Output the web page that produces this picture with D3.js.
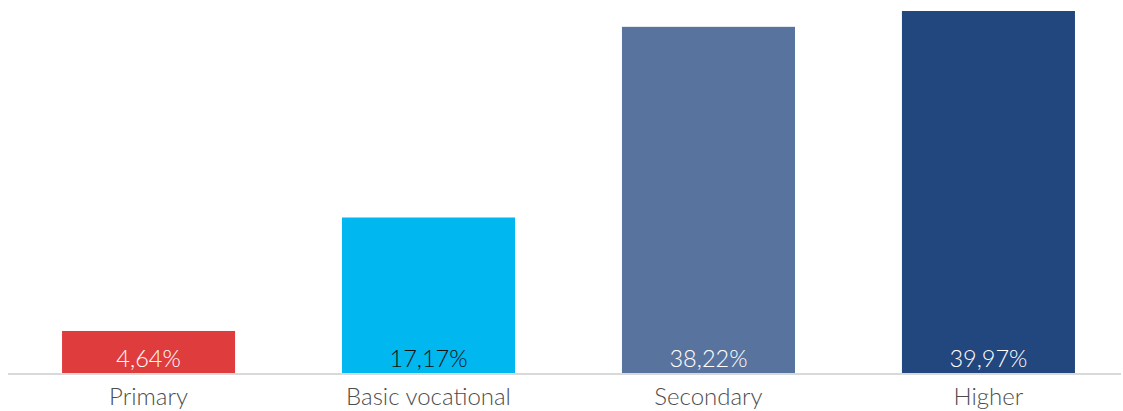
<!DOCTYPE html>
<meta charset="utf-8">
<style>
body { margin: 0; background: #fff; }
svg { display: block; }
.cat { font-family: Lato, "Open Sans", sans-serif; font-weight: 300; font-size: 24px; fill: #4d4d4d; }
.val { font-family: Lato, "Open Sans", sans-serif; font-weight: 300; font-size: 23.5px; }
</style>
<body>
<svg></svg>
<script src="https://d3js.org/d3.v7.min.js"></script>
<script>
// education levels and their shares (%)
const categories = ['Primary', 'Basic vocational', 'Secondary', 'Higher'];
const values = [4.64, 17.17, 38.22, 39.97];
const barColors = ['#df3d3d', '#00b7ef', '#58749e', '#22467e'];
const labelColors = ['#fff', '#111', '#fff', '#fff'];

const width = 1123, height = 411;
const baseline = 373;

const svg = d3.select('svg')
  .attr('width', width)
  .attr('height', height);

const xScale = d3.scaleBand()
  .domain(categories)
  .range([8, 1129])
  .paddingInner(0.382)
  .paddingOuter(0.193);

const yScale = d3.scaleLinear()
  .domain([0, 39.97])
  .range([baseline, 11]);

const fmt = d => d3.format('.2f')(d).replace('.', ',') + '%';

svg.selectAll('rect.bar')
  .data(values)
  .enter().append('rect')
  .attr('class', 'bar')
  .attr('x', (d, i) => xScale(categories[i]))
  .attr('y', d => yScale(d))
  .attr('width', xScale.bandwidth())
  .attr('height', d => baseline - yScale(d))
  .attr('fill', (d, i) => barColors[i]);

// axis line
svg.append('line')
  .attr('x1', 8).attr('x2', 1121)
  .attr('y1', baseline + 1).attr('y2', baseline + 1)
  .attr('stroke', '#d9d9d9')
  .attr('stroke-width', 2);

svg.selectAll('text.val')
  .data(values)
  .enter().append('text')
  .attr('class', 'val')
  .attr('x', (d, i) => xScale(categories[i]) + xScale.bandwidth() / 2)
  .attr('y', baseline - 6.5)
  .attr('text-anchor', 'middle')
  .attr('fill', (d, i) => labelColors[i])
  .text(fmt);

svg.selectAll('text.cat')
  .data(categories)
  .enter().append('text')
  .attr('class', 'cat')
  .attr('x', d => xScale(d) + xScale.bandwidth() / 2)
  .attr('y', 405)
  .attr('text-anchor', 'middle')
  .text(d => d);
</script>
</body>
